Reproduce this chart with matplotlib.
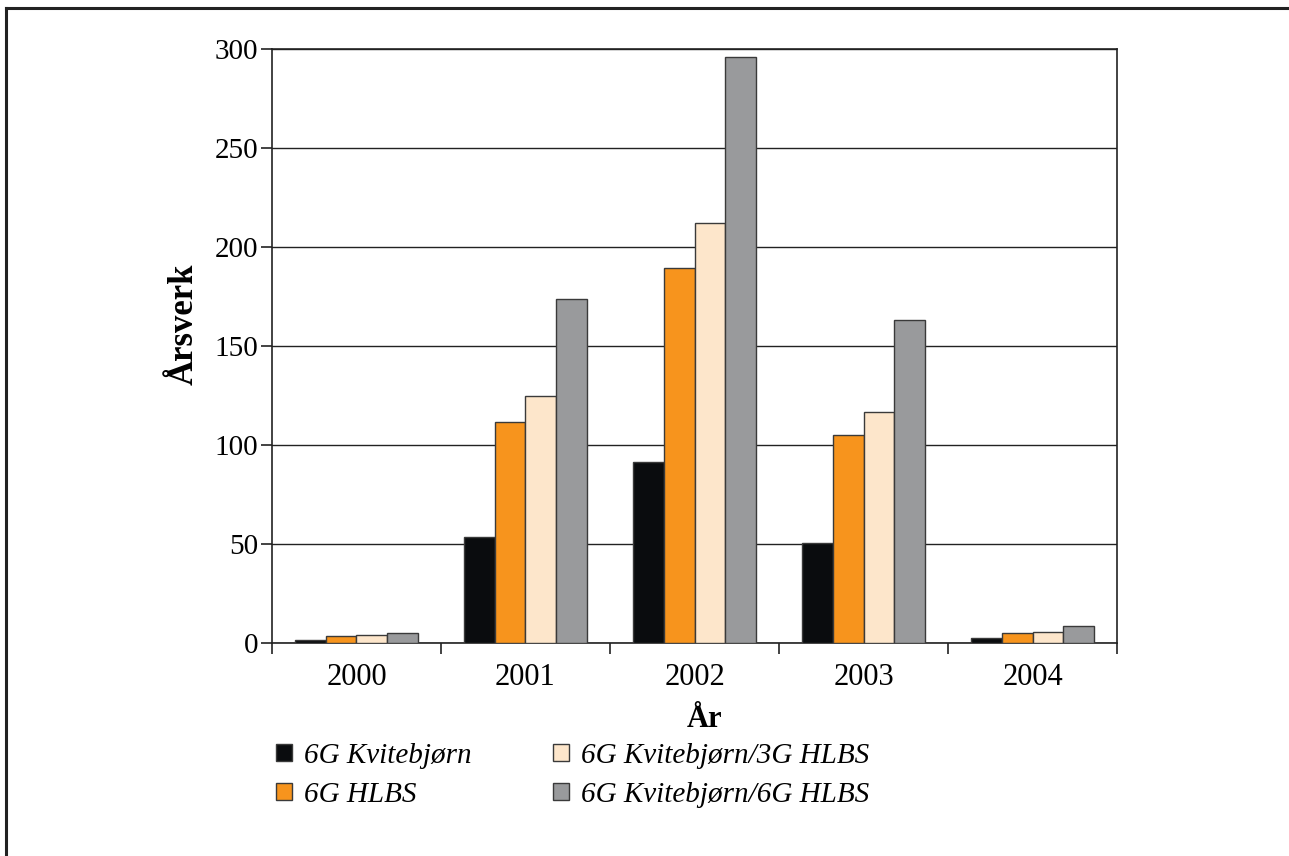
import numpy as np
import matplotlib.pyplot as plt
from matplotlib.patches import Rectangle
from matplotlib.lines import Line2D

# Årsverk per år for de fire utbyggingsalternativene
years = ["2000", "2001", "2002", "2003", "2004"]
kvitebjorn_6g = [1.5, 53.4, 91.3, 50.4, 2.3]
hlbs_6g = [3.2, 111.4, 189.0, 104.9, 5.0]
kvitebjorn_6g_hlbs_3g = [3.7, 124.5, 211.8, 116.5, 5.5]
kvitebjorn_6g_hlbs_6g = [4.7, 173.5, 295.5, 162.9, 8.1]

series = [kvitebjorn_6g, hlbs_6g, kvitebjorn_6g_hlbs_3g, kvitebjorn_6g_hlbs_6g]
labels = ["6G Kvitebjørn", "6G HLBS", "6G Kvitebjørn/3G HLBS", "6G Kvitebjørn/6G HLBS"]
colors = ["#0a0c0e", "#f7941d", "#fde6cb", "#999a9c"]

plt.rcParams["font.family"] = ["Liberation Serif", "DejaVu Serif"]

fig = plt.figure(figsize=(12.89, 8.56), dpi=100)
ax = fig.add_axes([0.211, 0.2494, 0.6556, 0.6939])

x = np.arange(len(years))
width = 0.1825
for i, (vals, col) in enumerate(zip(series, colors)):
    ax.bar(x + (i - 1.5) * width, vals, width, color=col,
           edgecolor="#3a3a3a", linewidth=1.0, zorder=3)

ax.set_xlim(-0.5, len(years) - 0.5)
ax.set_ylim(0, 300)
ax.set_yticks(np.arange(0, 301, 50))
ax.yaxis.grid(True, color="#222222", linewidth=1.0, zorder=0)

# Category labels centred, tick marks on group boundaries
ax.set_xticks(x)
ax.set_xticklabels(years)
ax.tick_params(axis="x", which="major", length=0, labelsize=22, pad=15)
ax.set_xticks(np.arange(-0.5, len(years)), minor=True)
ax.tick_params(axis="x", which="minor", length=8, width=1.2, color="#222222")
ax.tick_params(axis="y", length=8, width=1.2, color="#222222", labelsize=21, pad=2)

for s in ax.spines.values():
    s.set_linewidth(1.2)
    s.set_color("#222222")

ax.set_xlabel("År", fontsize=22, fontweight="bold", labelpad=9)
ax.xaxis.label.set_x(0.512)
ax.set_ylabel("Årsverk", fontsize=25, fontweight="bold", labelpad=10)
ax.yaxis.label.set_y(0.536)

handles = [Rectangle((0, 0), 1, 1, facecolor=c, edgecolor="#3a3a3a", linewidth=1.0)
           for c in colors]
fig.legend(handles, labels, ncol=2, loc="upper left", bbox_to_anchor=(0.205, 0.146),
           frameon=False, prop={"style": "italic", "size": 21},
           handlelength=0.55, handleheight=0.55, handletextpad=0.4,
           columnspacing=2.8, labelspacing=0.45, borderaxespad=0)

# Outer frame along top and left edge
fig.add_artist(Line2D([0.0047, 1.0], [0.9907, 0.9907], transform=fig.transFigure,
                      color="#222222", linewidth=2.2))
fig.add_artist(Line2D([0.0047, 0.0047], [0.0, 0.9907], transform=fig.transFigure,
                      color="#222222", linewidth=2.2))

fig.savefig("out.png", dpi=100)
